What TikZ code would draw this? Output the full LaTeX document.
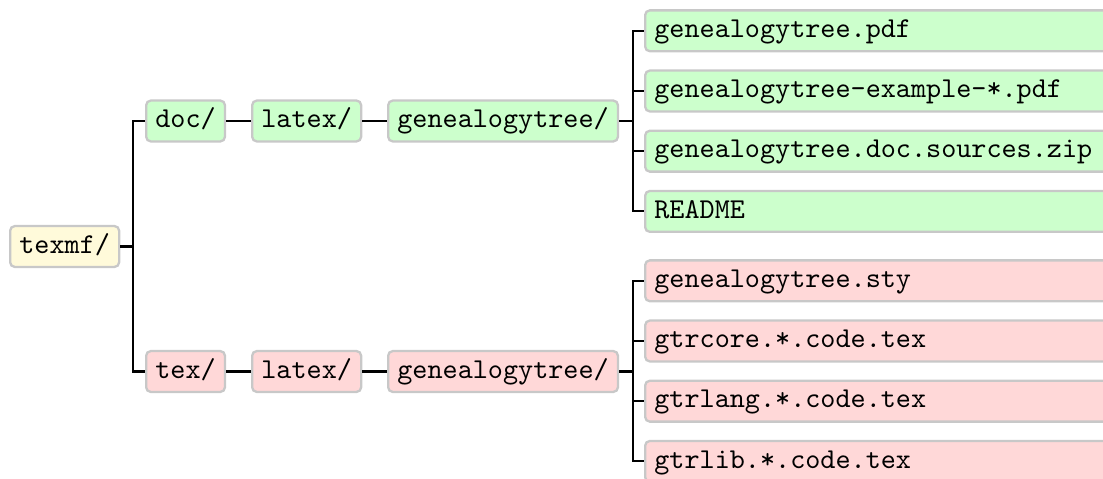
\documentclass[tikz,border=0pt]{standalone}
\usepackage{tikz}

\definecolor{docfill}{RGB}{204,255,204}
\definecolor{texfill}{RGB}{255,216,216}
\definecolor{rootfill}{RGB}{255,250,218}
\definecolor{boxline}{RGB}{200,200,200}

\def\px{0.3477pt}

\tikzset{
  dirbox/.style={draw=boxline, line width=0.8pt, rounded corners=1.6pt,
    font=\ttfamily, text height=6.9pt, text depth=2.3pt,
    inner xsep=3.2pt, inner ysep=2.5pt, anchor=west},
  leafbox/.style={dirbox, text width=160pt, align=left},
  fork/.style={line width=0.7pt, black}
}

\begin{document}
\begin{tikzpicture}[x=\px, y=-\px]
      \useasboundingbox (0,0) rectangle (1103,478);

      \node[dirbox, fill=rootfill] (texmf) at (9, 246.5) {texmf/};

      \node[dirbox, fill=docfill] (doc) at (145, 121) {doc/};
      \node[dirbox, fill=docfill] (doclatex) at (251, 121) {latex/};
      \node[dirbox, fill=docfill] (docgt) at (387, 121) {genealogytree/};

      \node[dirbox, fill=texfill] (tex) at (145, 371.5) {tex/};
      \node[dirbox, fill=texfill] (texlatex) at (251, 371.5) {latex/};
      \node[dirbox, fill=texfill] (texgt) at (387, 371.5) {genealogytree/};

      \node[leafbox, fill=docfill] (pdf) at (644, 30.8) {genealogytree.pdf};
      \node[leafbox, fill=docfill] (expdf) at (644, 91) {genealogytree-example-*.pdf};
      \node[leafbox, fill=docfill] (zip) at (644, 151.2) {genealogytree.doc.sources.zip};
      \node[leafbox, fill=docfill] (readme) at (644, 211.4) {README};

      \node[leafbox, fill=texfill] (sty) at (644, 280.8) {genealogytree.sty};
      \node[leafbox, fill=texfill] (core) at (644, 341) {gtrcore.*.code.tex};
      \node[leafbox, fill=texfill] (lang) at (644, 401.2) {gtrlang.*.code.tex};
      \node[leafbox, fill=texfill] (lib) at (644, 461.4) {gtrlib.*.code.tex};

      \draw[fork] (texmf.east) -- ++(13,0) |- (doc.west);
      \draw[fork] (texmf.east) -- ++(13,0) |- (tex.west);
      \draw[fork] (doc) -- (doclatex);
      \draw[fork] (doclatex) -- (docgt);
      \draw[fork] (tex) -- (texlatex);
      \draw[fork] (texlatex) -- (texgt);

      \foreach \leaf in {pdf, expdf, zip, readme}
        \draw[fork] (docgt.east) -- ++(13.5,0) |- (\leaf.west);
      \foreach \leaf in {sty, core, lang, lib}
        \draw[fork] (texgt.east) -- ++(13.5,0) |- (\leaf.west);
    \end{tikzpicture}
\end{document}
